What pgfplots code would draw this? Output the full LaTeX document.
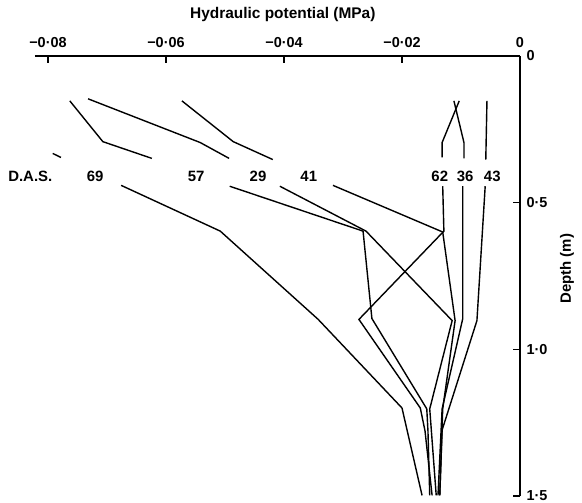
\documentclass[border=0pt]{standalone}
\usepackage{fontspec}
\setmainfont{Liberation Sans}
\usepackage{pgfplots}
\pgfplotsset{compat=1.18}

\begin{document}
\begin{tikzpicture}[font=\bfseries]
\begin{axis}[
  scale only axis, width=485bp, height=440bp,
  xmin=-0.0822, xmax=0, ymin=0, ymax=1.5,
  y dir=reverse,
  axis x line=top, axis y line=right,
  axis line style={-, line width=1.1bp},
  tick align=inside, major tick length=7bp,
  tick style={line width=1.1bp, black},
  scaled x ticks=false, scaled y ticks=false,
  xtick={-0.08,-0.06,-0.04,-0.02,0},
  xticklabels={−0·08,−0·06,−0·04,−0·02,0},
  ytick={0,0.5,1,1.5},
  yticklabels={0,0·5,1·0,1·5},
  ticklabel style={font=\fontsize{14.5}{17}\selectfont\bfseries},
  xticklabel style={yshift=5bp},
  yticklabel style={xshift=3bp},
  clip=false,
  every axis plot post/.append style={black, solid, mark=none, line width=1.4bp},
]
% 69 D.A.S.
\addplot coordinates {(-0.0792,0.332) (-0.0778,0.346)};
\addplot coordinates {(-0.0676,0.441) (-0.0508,0.597) (-0.0342,0.898) (-0.0200,1.200) (-0.0166,1.498)};
% 57 D.A.S.
\addplot coordinates {(-0.0763,0.153) (-0.0707,0.292) (-0.0624,0.349)};
\addplot coordinates {(-0.0492,0.444) (-0.0266,0.597) (-0.0251,0.895) (-0.0158,1.203) (-0.0156,1.278) (-0.0153,1.498)};
% 29 D.A.S.
\addplot coordinates {(-0.0732,0.146) (-0.0542,0.295) (-0.0493,0.349)};
\addplot coordinates {(-0.0407,0.444) (-0.0261,0.597) (-0.0115,0.902) (-0.0153,1.203) (-0.0142,1.498)};
% 41 D.A.S.
\addplot coordinates {(-0.0573,0.153) (-0.0486,0.292) (-0.0419,0.353)};
\addplot coordinates {(-0.0317,0.441) (-0.0131,0.600) (-0.0110,0.902) (-0.0131,1.203) (-0.0136,1.498)};
% 62 D.A.S.
\addplot coordinates {(-0.0103,0.153) (-0.0132,0.295) (-0.0132,0.346)};
\addplot coordinates {(-0.0131,0.444) (-0.0129,0.597) (-0.0273,0.898) (-0.0169,1.200) (-0.0161,1.278) (-0.0149,1.498)};
% 36 D.A.S.
\addplot coordinates {(-0.0112,0.153) (-0.0095,0.295) (-0.0095,0.349)};
\addplot coordinates {(-0.0097,0.444) (-0.0097,0.895) (-0.0132,1.203) (-0.0139,1.498)};
% 43 D.A.S.
\addplot coordinates {(-0.0056,0.153) (-0.0058,0.353)};
\addplot coordinates {(-0.0059,0.444) (-0.0073,0.902) (-0.0132,1.275) (-0.0136,1.498)};

% row of day labels
\begin{scope}[font=\fontsize{15}{17}\selectfont\bfseries]
\node at (axis cs:-0.0830,0.409) {D.A.S.};
\node at (axis cs:-0.0720,0.409) {69};
\node at (axis cs:-0.0549,0.409) {57};
\node at (axis cs:-0.0444,0.409) {29};
\node at (axis cs:-0.0358,0.409) {41};
\node at (axis cs:-0.0136,0.409) {62};
\node at (axis cs:-0.0093,0.409) {36};
\node at (axis cs:-0.0047,0.409) {43};
\node[font=\fontsize{15.5}{18}\selectfont\bfseries] at ([yshift=41bp]axis cs:-0.0402,0) {Hydraulic potential (MPa)};
\node[rotate=90] at ([xshift=47bp]axis cs:0,0.725) {Depth (m)};
\end{scope}

\coordinate (bl) at (axis cs:-0.0822,1.5);
\coordinate (tr) at (axis cs:0,0);
\end{axis}
\pgfresetboundingbox
\path[use as bounding box] ([shift={(-35bp,-7bp)}]bl) rectangle ([shift={(62bp,56bp)}]tr);
\end{tikzpicture}
\end{document}
